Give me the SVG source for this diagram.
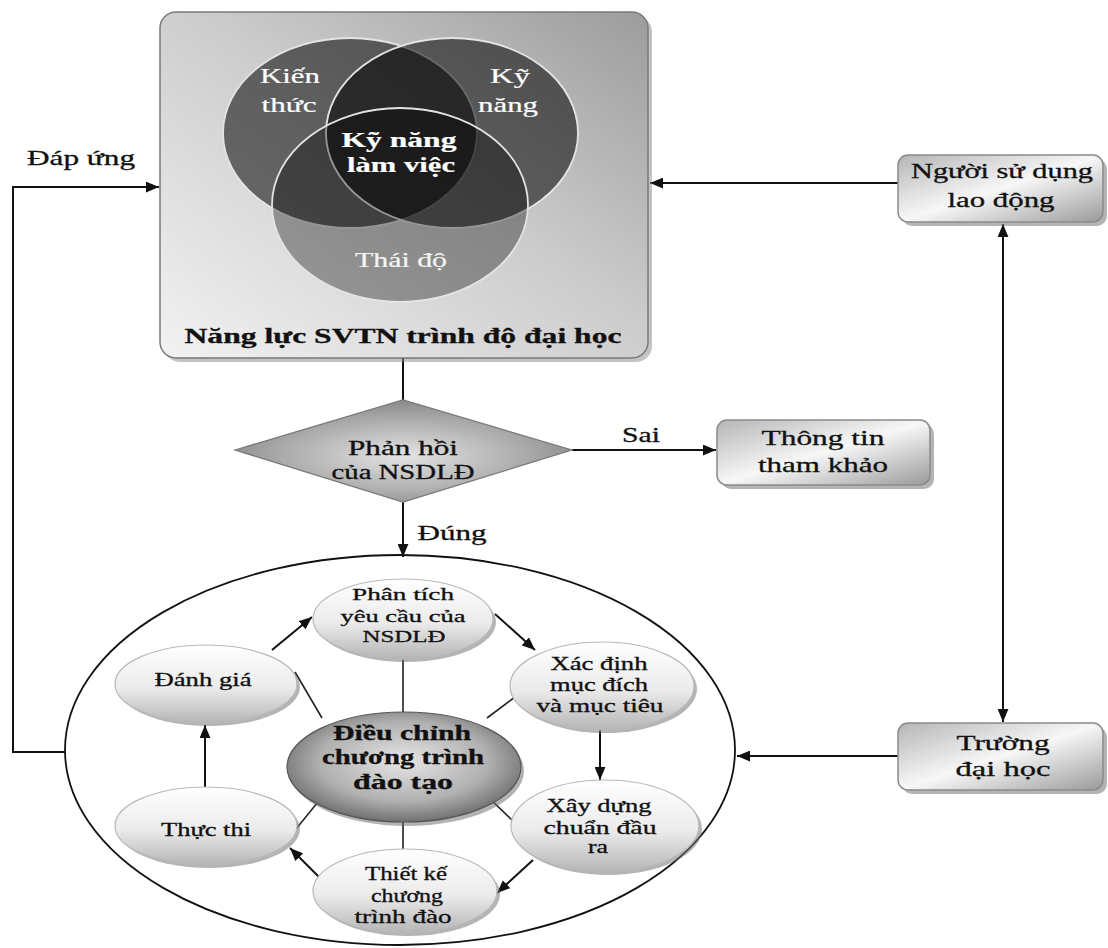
<svg xmlns="http://www.w3.org/2000/svg" width="1108" height="948" viewBox="0 0 1108 948">
<defs>
<style>
text{font-family:"Liberation Serif","Times New Roman",serif;text-anchor:middle;fill:#111;stroke:#111;stroke-width:0.3}
.w{fill:#fff;stroke:#fff;stroke-width:0.2}
.b{font-weight:bold}
.ln{stroke:#111;stroke-width:2;fill:none}
.sp{stroke:#222;stroke-width:1.6;fill:none}
.box{fill:url(#gBox);stroke:#8a8a8a;stroke-width:1.5}
.sh{fill:#777;opacity:0.55}
.nd{fill:url(#gNode);stroke:#b8b8b8;stroke-width:1.2}
.vn{stroke:#e4e4e4;stroke-width:1.8}
</style>
<linearGradient id="gBox" x1="0" y1="0" x2="1" y2="1">
<stop offset="0" stop-color="#b5b5b5"/><stop offset="0.5" stop-color="#f7f7f7"/><stop offset="1" stop-color="#9a9a9a"/>
</linearGradient>
<linearGradient id="gMain" x1="0" y1="1" x2="1" y2="0">
<stop offset="0" stop-color="#f2f2f2"/><stop offset="0.55" stop-color="#cbcbcb"/><stop offset="1" stop-color="#9c9c9c"/>
</linearGradient>
<linearGradient id="gNode" x1="0" y1="0" x2="0" y2="1">
<stop offset="0" stop-color="#ffffff"/><stop offset="0.55" stop-color="#ebebeb"/><stop offset="1" stop-color="#b5b5b5"/>
</linearGradient>
<radialGradient id="gCen" cx="0.5" cy="0.45" r="0.6">
<stop offset="0" stop-color="#e6e6e6"/><stop offset="0.6" stop-color="#b0b0b0"/><stop offset="1" stop-color="#606060"/>
</radialGradient>
<radialGradient id="gDia" cx="0.5" cy="0.55" r="0.55">
<stop offset="0" stop-color="#e4e4e4"/><stop offset="0.6" stop-color="#b0b0b0"/><stop offset="1" stop-color="#8a8a8a"/>
</radialGradient>
<marker id="ah" viewBox="0 0 12 10" refX="12" refY="5" markerWidth="13" markerHeight="11" markerUnits="userSpaceOnUse" orient="auto-start-reverse">
<path d="M0,0 L12,5 L0,10 z" fill="#111"/>
</marker>
</defs>
<rect width="1108" height="948" fill="#fff"/>

<g id="connectors">
<line class="ln" x1="403" y1="358" x2="403" y2="400"/>
<line class="ln" x1="572" y1="450" x2="716" y2="450" marker-end="url(#ah)"/>
<line class="ln" x1="403" y1="502" x2="403" y2="557" marker-end="url(#ah)"/>
<path class="ln" d="M65,752 H13 V187 H159" marker-end="url(#ah)"/>
<line class="ln" x1="898" y1="183" x2="650" y2="183" marker-end="url(#ah)"/>
<line class="ln" x1="1003" y1="224" x2="1003" y2="722" marker-start="url(#ah)" marker-end="url(#ah)"/>
<line class="ln" x1="898" y1="756" x2="737" y2="756" marker-end="url(#ah)"/>
<line class="sp" x1="403" y1="659" x2="403" y2="713"/>
<line class="sp" x1="487" y1="718" x2="515" y2="697"/>
<line class="sp" x1="295" y1="672" x2="322" y2="718"/>
<line class="sp" x1="322" y1="797" x2="296" y2="829"/>
<line class="sp" x1="488" y1="797" x2="514" y2="822"/>
<line class="sp" x1="403" y1="822" x2="403" y2="850"/>
<line class="ln" x1="272" y1="650" x2="312" y2="617" marker-end="url(#ah)"/>
<line class="ln" x1="495" y1="614" x2="535" y2="650" marker-end="url(#ah)"/>
<line class="ln" x1="600" y1="730" x2="600" y2="780" marker-end="url(#ah)"/>
<line class="ln" x1="533" y1="860" x2="497" y2="893" marker-end="url(#ah)"/>
<line class="ln" x1="322" y1="880" x2="290" y2="848" marker-end="url(#ah)"/>
<line class="ln" x1="205" y1="787" x2="205" y2="725" stroke-width="3" marker-end="url(#ah)"/>
</g>

<g id="main-box">
<rect x="164" y="16" width="488" height="346" rx="16" fill="#888" opacity="0.5"/>
<rect x="160" y="12" width="488" height="346" rx="16" fill="url(#gMain)" stroke="#7a7a7a" stroke-width="1.5"/>
<ellipse class="vn" cx="350" cy="133" rx="127" ry="95" fill="#000" fill-opacity="0.54"/>
<ellipse class="vn" cx="452" cy="133" rx="126" ry="95" fill="#000" fill-opacity="0.54"/>
<ellipse class="vn" cx="400" cy="205" rx="128" ry="97" fill="#000" fill-opacity="0.34"/>
<text class="w" x="290" y="83" font-size="22" textLength="60" lengthAdjust="spacingAndGlyphs">Kiến</text>
<text class="w" x="289" y="112" font-size="22" textLength="55" lengthAdjust="spacingAndGlyphs">thức</text>
<text class="w" x="510" y="83" font-size="22" textLength="40" lengthAdjust="spacingAndGlyphs">Kỹ</text>
<text class="w" x="508" y="112" font-size="22" textLength="60" lengthAdjust="spacingAndGlyphs">năng</text>
<text class="w b" x="399" y="147" font-size="22" textLength="115" lengthAdjust="spacingAndGlyphs">Kỹ năng</text>
<text class="w b" x="401" y="172" font-size="22" textLength="108" lengthAdjust="spacingAndGlyphs">làm việc</text>
<text class="w" x="401" y="267" font-size="22" fill-opacity="0.92" textLength="92" lengthAdjust="spacingAndGlyphs">Thái độ</text>
<text class="b" x="403" y="343" font-size="21" textLength="437" lengthAdjust="spacingAndGlyphs">Năng lực SVTN trình độ đại học</text>
</g>

<g id="dap-ung">
<text x="81" y="165" font-size="21" textLength="108" lengthAdjust="spacingAndGlyphs">Đáp ứng</text>
</g>

<g id="nguoi-su-dung">
<rect x="902" y="159" width="205" height="67" rx="10" class="sh"/>
<rect x="898" y="155" width="205" height="67" rx="10" class="box"/>
<text x="1002" y="178" font-size="20" textLength="182" lengthAdjust="spacingAndGlyphs">Người sử dụng</text>
<text x="1001" y="207" font-size="20" textLength="107" lengthAdjust="spacingAndGlyphs">lao động</text>
</g>

<g id="truong">
<rect x="902" y="727" width="205" height="67" rx="10" class="sh"/>
<rect x="898" y="723" width="205" height="67" rx="10" class="box"/>
<text x="1003" y="750" font-size="21" textLength="93" lengthAdjust="spacingAndGlyphs">Trường</text>
<text x="1003" y="776" font-size="21" textLength="95" lengthAdjust="spacingAndGlyphs">đại học</text>
</g>

<g id="phan-hoi">
<polygon points="235,450 403,400 572,450 403,502" fill="url(#gDia)" stroke="#777" stroke-width="1.2"/>
<text x="403" y="455" font-size="20" textLength="110" lengthAdjust="spacingAndGlyphs">Phản hồi</text>
<text x="403" y="479" font-size="20" textLength="143" lengthAdjust="spacingAndGlyphs">của NSDLĐ</text>
</g>

<g id="sai-label">
<text x="641" y="442" font-size="21" textLength="38" lengthAdjust="spacingAndGlyphs">Sai</text>
</g>

<g id="thong-tin">
<rect x="721" y="424" width="213" height="65" rx="10" class="sh"/>
<rect x="717" y="420" width="213" height="65" rx="10" class="box"/>
<text x="823" y="445" font-size="21" textLength="123" lengthAdjust="spacingAndGlyphs">Thông tin</text>
<text x="823" y="472" font-size="21" textLength="130" lengthAdjust="spacingAndGlyphs">tham khảo</text>
</g>

<g id="dung-label">
<text x="452" y="540" font-size="21" textLength="69" lengthAdjust="spacingAndGlyphs">Đúng</text>
</g>

<g id="cycle">
<ellipse cx="400" cy="750" rx="335" ry="195" fill="none" stroke="#111" stroke-width="1.8"/>
</g>

<g id="phan-tich">
<ellipse cx="406" cy="622" rx="90" ry="40" class="sh"/>
<ellipse cx="403" cy="619" rx="90" ry="40" class="nd"/>
<text x="403" y="600" font-size="17" textLength="102" lengthAdjust="spacingAndGlyphs">Phân tích</text>
<text x="403" y="622" font-size="17" textLength="125" lengthAdjust="spacingAndGlyphs">yêu cầu của</text>
<text x="404" y="642" font-size="17" textLength="83" lengthAdjust="spacingAndGlyphs">NSDLĐ</text>
</g>

<g id="xac-dinh">
<ellipse cx="605" cy="689" rx="92" ry="44" class="sh"/>
<ellipse cx="602" cy="686" rx="92" ry="44" class="nd"/>
<text x="599" y="670" font-size="18" textLength="97" lengthAdjust="spacingAndGlyphs">Xác định</text>
<text x="599" y="691" font-size="18" textLength="98" lengthAdjust="spacingAndGlyphs">mục đích</text>
<text x="600" y="712" font-size="18" textLength="127" lengthAdjust="spacingAndGlyphs">và mục tiêu</text>
</g>

<g id="xay-dung">
<ellipse cx="608" cy="829" rx="94" ry="46" class="sh"/>
<ellipse cx="605" cy="826" rx="94" ry="46" class="nd"/>
<text x="599" y="812" font-size="18" textLength="105" lengthAdjust="spacingAndGlyphs">Xây dựng</text>
<text x="600" y="834" font-size="18" textLength="113" lengthAdjust="spacingAndGlyphs">chuẩn đầu</text>
<text x="598" y="853" font-size="18" textLength="20" lengthAdjust="spacingAndGlyphs">ra</text>
</g>

<g id="thiet-ke">
<ellipse cx="408" cy="894" rx="92" ry="42" class="sh"/>
<ellipse cx="405" cy="891" rx="92" ry="42" class="nd"/>
<text x="406" y="880" font-size="18" textLength="82" lengthAdjust="spacingAndGlyphs">Thiết kế</text>
<text x="407" y="902" font-size="18" textLength="72" lengthAdjust="spacingAndGlyphs">chương</text>
<text x="403" y="923" font-size="18" textLength="97" lengthAdjust="spacingAndGlyphs">trình đào</text>
</g>

<g id="thuc-thi">
<ellipse cx="209" cy="829" rx="91" ry="39" class="sh"/>
<ellipse cx="206" cy="826" rx="91" ry="39" class="nd"/>
<text x="206" y="836" font-size="18" textLength="90" lengthAdjust="spacingAndGlyphs">Thực thi</text>
</g>

<g id="danh-gia">
<ellipse cx="209" cy="687" rx="91" ry="39" class="sh"/>
<ellipse cx="206" cy="684" rx="91" ry="39" class="nd"/>
<text x="203" y="686" font-size="18" textLength="97" lengthAdjust="spacingAndGlyphs">Đánh giá</text>
</g>

<g id="dieu-chinh">
<ellipse cx="407" cy="771" rx="117" ry="55" fill="#666" opacity="0.5"/>
<ellipse cx="404" cy="767" rx="117" ry="55" fill="url(#gCen)" stroke="#555" stroke-width="1.2"/>
<text class="b" x="402" y="740" font-size="21" textLength="138" lengthAdjust="spacingAndGlyphs">Điều chỉnh</text>
<text class="b" x="403" y="764" font-size="21" textLength="162" lengthAdjust="spacingAndGlyphs">chương trình</text>
<text class="b" x="403" y="789" font-size="21" textLength="100" lengthAdjust="spacingAndGlyphs">đào tạo</text>
</g>
</svg>
